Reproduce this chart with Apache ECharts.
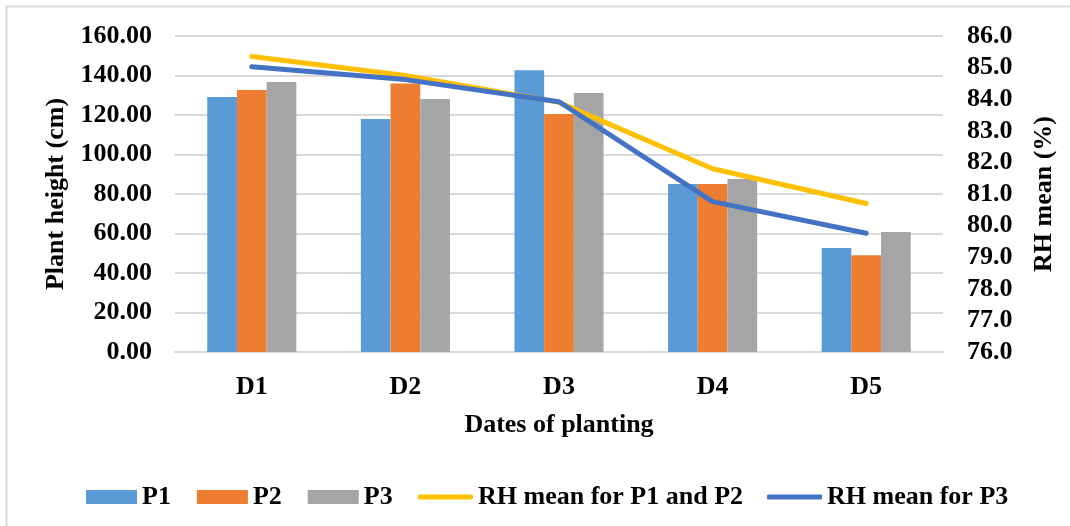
<!DOCTYPE html>
<html>
<head>
<meta charset="utf-8">
<script src="https://cdn.jsdelivr.net/npm/echarts@6/dist/echarts.min.js"></script>
<style>
  html, body { margin: 0; padding: 0; background: #fff; }
  #main { width: 1070px; height: 526px; }
</style>
</head>
<body>
<div id="main"></div>
<script>
var categories = ['D1', 'D2', 'D3', 'D4', 'D5'];
var p1 = [129.1, 118.0, 142.6, 85.1, 52.7];
var p2 = [132.7, 136.0, 120.5, 85.1, 49.0];
var p3 = [136.7, 128.1, 131.1, 87.6, 60.8];
var rhP1P2 = [85.35, 84.75, 83.9, 81.8, 80.7];
var rhP3 = [85.03, 84.62, 83.92, 80.76, 79.76];

var font = 'Liberation Serif';
var txt = { fontFamily: font, fontWeight: 'bold', fontSize: 26, color: '#000' };

var myChart = echarts.init(document.getElementById('main'));
myChart.setOption({
    animation: false,
    graphic: [{
        type: 'rect',
        shape: { x: 6.5, y: 6.5, width: 1200, height: 700 },
        style: { fill: 'none', stroke: '#d9d9d9', lineWidth: 2 }
    }],
    grid: { left: 175, right: 127, top: 36, bottom: 174 },
    legend: [{
        left: 86,
        top: 484,
        padding: 0,
        itemWidth: 51,
        itemHeight: 14,
        itemGap: 26,
        textStyle: txt,
        icon: 'rect',
        data: ['P1', 'P2', 'P3']
    }, {
        left: 418,
        top: 484,
        padding: 0,
        itemWidth: 55,
        itemHeight: 5,
        itemGap: 24,
        textStyle: txt,
        icon: 'roundRect',
        data: ['RH mean for P1 and P2', 'RH mean for P3']
    }],
    xAxis: {
        type: 'category',
        data: categories,
        name: 'Dates of planting',
        nameLocation: 'middle',
        nameGap: 60,
        nameTextStyle: txt,
        axisLine: { lineStyle: { color: '#d9d9d9', width: 2 } },
        axisTick: { show: false },
        axisLabel: Object.assign({ margin: 22 }, txt)
    },
    yAxis: [{
        type: 'value',
        min: 0,
        max: 160,
        interval: 20,
        name: 'Plant height (cm)',
        nameLocation: 'middle',
        nameGap: 104,
        nameTextStyle: txt,
        axisLine: { show: false },
        axisTick: { show: false },
        splitLine: { lineStyle: { color: '#d9d9d9', width: 2 } },
        axisLabel: Object.assign({ margin: 23, formatter: function (v) { return v.toFixed(2); } }, txt)
    }, {
        type: 'value',
        min: 76,
        max: 86,
        interval: 1,
        name: 'RH mean (%)',
        nameLocation: 'middle',
        nameGap: 88,
        nameTextStyle: txt,
        axisLine: { show: false },
        axisTick: { show: false },
        splitLine: { show: false },
        axisLabel: Object.assign({ margin: 24, formatter: function (v) { return v.toFixed(1); } }, txt)
    }],
    series: [{
        name: 'P1',
        type: 'bar',
        data: p1,
        barGap: '0%',
        barCategoryGap: '42%',
        itemStyle: { color: '#5B9BD5' }
    }, {
        name: 'P2',
        type: 'bar',
        data: p2,
        itemStyle: { color: '#ED7D31' }
    }, {
        name: 'P3',
        type: 'bar',
        data: p3,
        itemStyle: { color: '#A5A5A5' }
    }, {
        name: 'RH mean for P1 and P2',
        type: 'line',
        yAxisIndex: 1,
        data: rhP1P2,
        symbol: 'none',
        lineStyle: { color: '#FFC000', width: 5, cap: 'round' },
        itemStyle: { color: '#FFC000' }
    }, {
        name: 'RH mean for P3',
        type: 'line',
        yAxisIndex: 1,
        data: rhP3,
        symbol: 'none',
        lineStyle: { color: '#4472C4', width: 5, cap: 'round' },
        itemStyle: { color: '#4472C4' }
    }]
});
</script>
</body>
</html>
